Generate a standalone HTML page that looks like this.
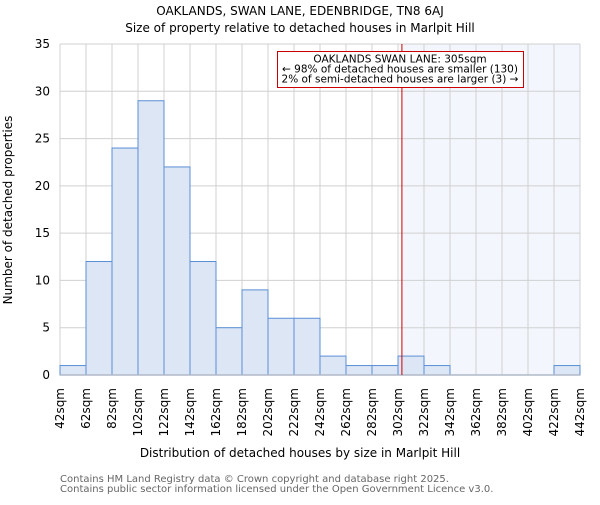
<!DOCTYPE html>
<html><head><meta charset="utf-8"><style>
body{margin:0;background:#fff;}
svg text{font-family:"DejaVu Sans","Liberation Sans",sans-serif;}
</style></head><body>
<svg id="chart" width="600" height="500" xmlns="http://www.w3.org/2000/svg">
<text x="300" y="15" text-anchor="middle" font-size="12">OAKLANDS, SWAN LANE, EDENBRIDGE, TN8 6AJ</text>
<text x="300" y="32" text-anchor="middle" font-size="12">Size of property relative to detached houses in Marlpit Hill</text>
<g id="plot"></g>
<text x="300" y="457" text-anchor="middle" font-size="12">Distribution of detached houses by size in Marlpit Hill</text>
<text transform="translate(12,210) rotate(-90)" text-anchor="middle" font-size="12">Number of detached properties</text>
<text x="60" y="482" font-size="10" fill="#666">Contains HM Land Registry data © Crown copyright and database right 2025.</text>
<text x="60" y="492" font-size="10" fill="#666">Contains public sector information licensed under the Open Government Licence v3.0.</text>
</svg>
<script>
const binStarts=[42,62,82,102,122,142,162,182,202,222,242,262,282,302,322,342,362,382,402,422];
const counts=[1,12,24,29,22,12,5,9,6,6,2,1,1,2,1,0,0,0,0,1];
const yTicks=[0,5,10,15,20,25,30,35];
const xTickLabels=["42sqm","62sqm","82sqm","102sqm","122sqm","142sqm","162sqm","182sqm","202sqm","222sqm","242sqm","262sqm","282sqm","302sqm","322sqm","342sqm","362sqm","382sqm","402sqm","422sqm","442sqm"];
const subjectSize=305;
const NS="http://www.w3.org/2000/svg";
const L=60,R=580,T=44,B=375,xmin=42,xmax=442,ymax=35;
const xs=v=>L+(v-xmin)/(xmax-xmin)*(R-L);
const ys=v=>B-v/ymax*(B-T);
const g=document.getElementById('plot');
function mk(t,a){const e=document.createElementNS(NS,t);for(const k in a)e.setAttribute(k,a[k]);g.appendChild(e);return e;}
const sh=mk('rect',{x:xs(subjectSize),y:T,width:R-xs(subjectSize),height:B-T,fill:'#f3f6fc'});


yTicks.forEach(t=>{
 const l=mk('line',{x1:L,x2:R,y1:ys(t),y2:ys(t),stroke:'#d0d0d0'});
 
 
 const tx=mk('text',{x:L-10,y:ys(t)+4,'text-anchor':'end','font-size':'12'});
 tx.textContent=t;
 
 
});
xTickLabels.forEach((s,i)=>{
 const v=xmin+i*20;
 const l=mk('line',{x1:xs(v),x2:xs(v),y1:T,y2:B,stroke:'#d0d0d0'});
 
 
 const tx=mk('text',{transform:`translate(${xs(v)+4},388) rotate(-90)`,'text-anchor':'end','font-size':'12'});
 tx.textContent=s;
 
 
});
binStarts.forEach((b,i)=>{
 if(counts[i]<=0)return;
 const r=mk('rect',{x:xs(b),y:ys(counts[i]),width:xs(b+20)-xs(b),height:B-ys(counts[i]),fill:'#dce6f4',stroke:'#5b8fd6','stroke-width':1});
 
 
});
const ax=mk('line',{x1:L,x2:R,y1:B,y2:B,stroke:'#b0b8c8','stroke-width':1.5});


const ml=mk('line',{x1:xs(subjectSize),x2:xs(subjectSize),y1:T,y2:B,stroke:'#cc0000','stroke-width':1});


const bx=mk('rect',{x:277.5,y:51.5,width:246,height:36,fill:'#fff',stroke:'#cc0000','stroke-width':1});


["OAKLANDS SWAN LANE: 305sqm","← 98% of detached houses are smaller (130)","2% of semi-detached houses are larger (3) →"].forEach((s,i)=>{
 const tx=mk('text',{x:400,y:62.5+i*10,'text-anchor':'middle','font-size':'10.5'});
 tx.textContent=s;
 
 
});
</script>
</body></html>
